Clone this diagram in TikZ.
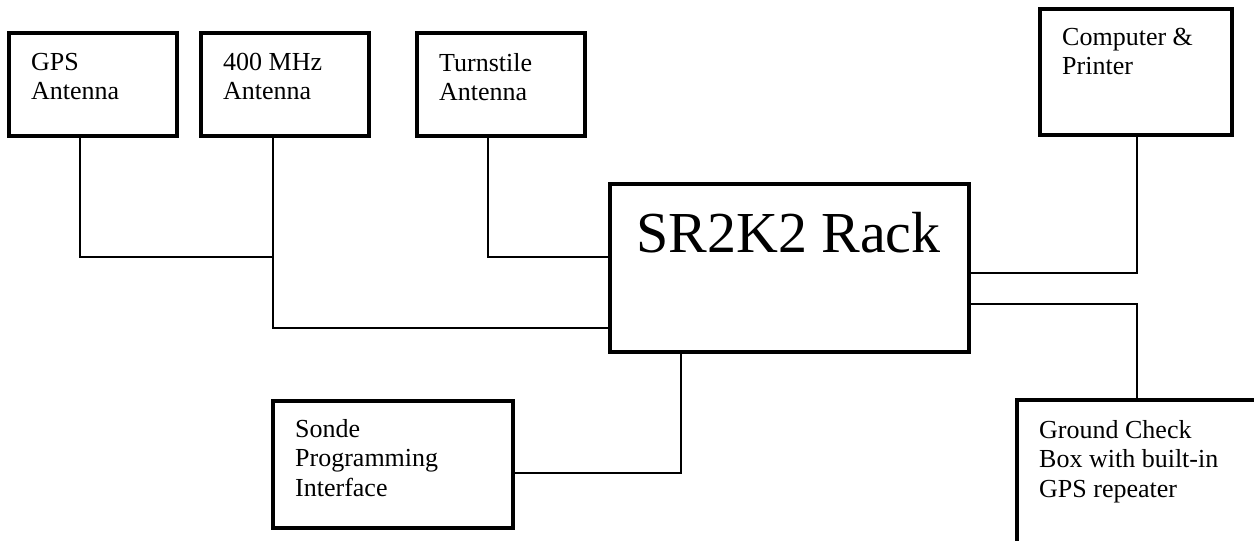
\documentclass[tikz,border=0pt]{standalone}
\usepackage{fontspec}
\setmainfont{Liberation Serif}
\begin{document}
\begin{tikzpicture}[x=1pt,y=-1pt,
  box/.style={draw, line width=4pt, inner sep=0pt, outer sep=0pt, fill=white},
  lbl/.style={anchor=north west, inner sep=0pt, align=left, font=\fontsize{26}{29.5}\selectfont},
  wire/.style={line width=1.6pt}]
\useasboundingbox (0,0) rectangle (1254,541);
\clip (0,0) rectangle (1254,541);
% boxes
\node[box, minimum width=168pt, minimum height=103pt] (gps)   at (93,84.5) {};
\node[box, minimum width=168pt, minimum height=103pt] (mhz)   at (285,84.5) {};
\node[box, minimum width=168pt, minimum height=103pt] (turn)  at (501,84.5) {};
\node[box, minimum width=192pt, minimum height=126pt] (comp)  at (1136,72) {};
\node[box, minimum width=359pt, minimum height=168pt] (rack)  at (789.5,268) {};
\node[box, minimum width=240pt, minimum height=127pt] (sonde) at (393,464.5) {};
\node[box, minimum width=283pt, minimum height=200pt] (gnd)   at (1158.5,500) {};
% labels
\node[lbl] (gpst)   at ([shift={(22,20)}]gps.north west) {GPS\\Antenna};
\node[lbl] (mhzt)   at ([shift={(22,20)}]mhz.north west) {400 MHz\\Antenna};
\node[lbl] (turnt)  at ([shift={(22,20)}]turn.north west) {Turnstile\\Antenna};
\node[lbl] (compt)  at ([shift={(22,19)}]comp.north west) {Computer \&\\Printer};
\node[lbl] (sondet) at ([shift={(22,18)}]sonde.north west) {Sonde\\Programming\\Interface};
\node[lbl] (gndt)   at ([shift={(22,20)}]gnd.north west) {Ground Check\\Box with built-in\\GPS repeater};
\node[anchor=base west, inner sep=0pt, font=\fontsize{58}{66}\selectfont] (rackt)
  at ([shift={(26,68)}]rack.north west) {SR2K2 Rack};
% connector bends
\coordinate (gpsbend)   at (80,257);
\coordinate (mhzbend)   at (273,328);
\coordinate (turnbend)  at (488,257);
\coordinate (compbend)  at (1137,273);
\coordinate (gndbend)   at (1137,304);
\coordinate (sondebend) at (681,473);
% connectors
\draw[wire] (gps.south -| gpsbend) -- (gpsbend) -- (gpsbend -| mhzbend);
\draw[wire] (mhz.south -| mhzbend) -- (mhzbend) -- (mhzbend -| rack.west);
\draw[wire] (turn.south -| turnbend) -- (turnbend) -- (turnbend -| rack.west);
\draw[wire] (comp.south -| compbend) -- (compbend) -- (compbend -| rack.east);
\draw[wire] (gnd.north -| gndbend) -- (gndbend) -- (gndbend -| rack.east);
\draw[wire] (rack.south -| sondebend) -- (sondebend) -- (sondebend -| sonde.east);
\end{tikzpicture}
\end{document}
